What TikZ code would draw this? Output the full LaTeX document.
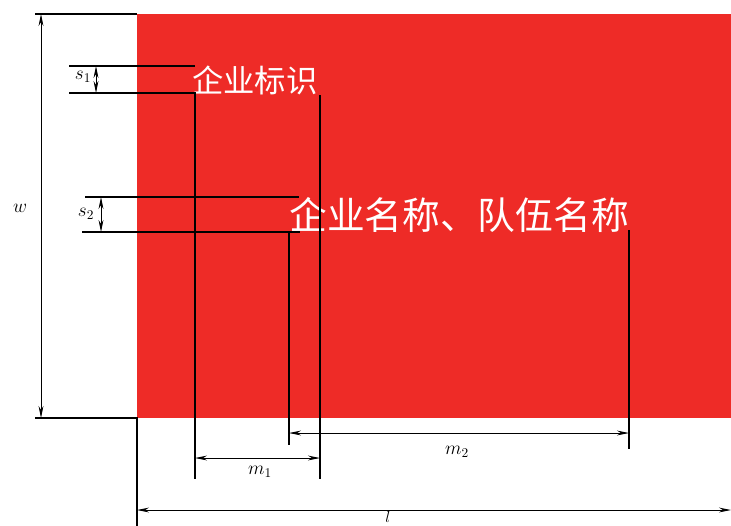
\documentclass[tikz,border=0pt]{standalone}
\usepackage{fontspec}
\newfontfamily\cjk{Noto Sans CJK SC}
\usetikzlibrary{arrows.meta}
\definecolor{boardred}{RGB}{238,43,39}
\tikzset{
  dimline/.style={line width=0.7pt,{Stealth[length=9pt,width=3.6pt]}-{Stealth[length=9pt,width=3.6pt]}},
  extline/.style={line width=1.1pt},
  boardtext/.style={text=white,inner sep=0pt,anchor=base west},
  dimlabel/.style={inner sep=0.75pt,font=\fontsize{14.5}{16}\selectfont},
}

\begin{document}
\begin{tikzpicture}[x=0.75pt,y=0.75pt,yscale=-1,xscale=1]
        \useasboundingbox (0,0) rectangle (731,525);

        %Shape: Board
        \fill[boardred] (137,14) rectangle (745,418);

        % Corner points
        \coordinate (tl) at (35,14);
        \coordinate (tr) at (137,14);
        \coordinate (bl) at (35,418);
        \coordinate (br) at (137,418);
        \coordinate (bb) at (137,530);
        \draw[extline] (tl) -- (tr);
        \draw[extline] (bl) -- (br) -- (bb);

        % Text Node
        \node[boardtext,font=\cjk\fontsize{23.5}{24}\selectfont] (logo) at (192,92) {企业标识};
        % Text Node
        \node[boardtext,font=\cjk\fontsize{28.3}{30}\selectfont] (name) at (289,229) {企业名称、队伍名称};

        % Extension lines for the logo
        \coordinate (s1a) at (69,66);
        \coordinate (s1b) at (195,66);
        \coordinate (s1c) at (69,93);
        \coordinate (s1d) at (195,93);
        \coordinate (m1a) at (195,479);
        \coordinate (m1b) at (320,95);
        \coordinate (m1c) at (320,479);
        \draw[extline] (s1a) -- (s1b);
        \draw[extline] (s1c) -- (s1d) -- (m1a);
        \draw[extline] (m1b) -- (m1c);

        % Extension lines for the name
        \coordinate (s2a) at (85,197);
        \coordinate (s2b) at (299,197);
        \coordinate (s2c) at (82,232);
        \coordinate (s2d) at (300,232);
        \coordinate (m2a) at (289,232);
        \coordinate (m2b) at (289,445);
        \coordinate (m2c) at (629,230);
        \coordinate (m2d) at (629,449);
        \draw[extline] (s2a) -- (s2b);
        \draw[extline] (s2c) -- (s2d);
        \draw[extline] (m2a) -- (m2b);
        \draw[extline] (m2c) -- (m2d);

        % Dimensions
        \draw[dimline] (41,14) coordinate (wt) -- (41,418) coordinate (wb);
        \draw[dimline] (96,66) coordinate (s1t) -- (96,93) coordinate (s1u);
        \draw[dimline] (101,197) coordinate (s2t) -- (101,232) coordinate (s2u);
        \draw[dimline] (289,433) coordinate (m2l) -- (629,433) coordinate (m2r);
        \draw[dimline] (195,458) coordinate (m1l) -- (320,458) coordinate (m1r);
        \draw[dimline] (137,510) coordinate (ll) -- (731,510) coordinate (lr);

        % Text Node
        \node[dimlabel] (wlab) at (20,208) {$w$};
        % Text Node
        \node[dimlabel] (s1lab) at (83,77) {$s_1$};
        % Text Node
        \node[dimlabel] (s2lab) at (86,214) {$s_2$};
        % Text Node
        \node[dimlabel] (m1lab) at (260,472) {$m_1$};
        % Text Node
        \node[dimlabel] (m2lab) at (457,452) {$m_2$};
        % Text Node
        \node[dimlabel,anchor=north,inner sep=0pt,font=\fontsize{13}{14}\selectfont] (llab) at (388,511.5) {$l$};

\end{tikzpicture}
\end{document}
